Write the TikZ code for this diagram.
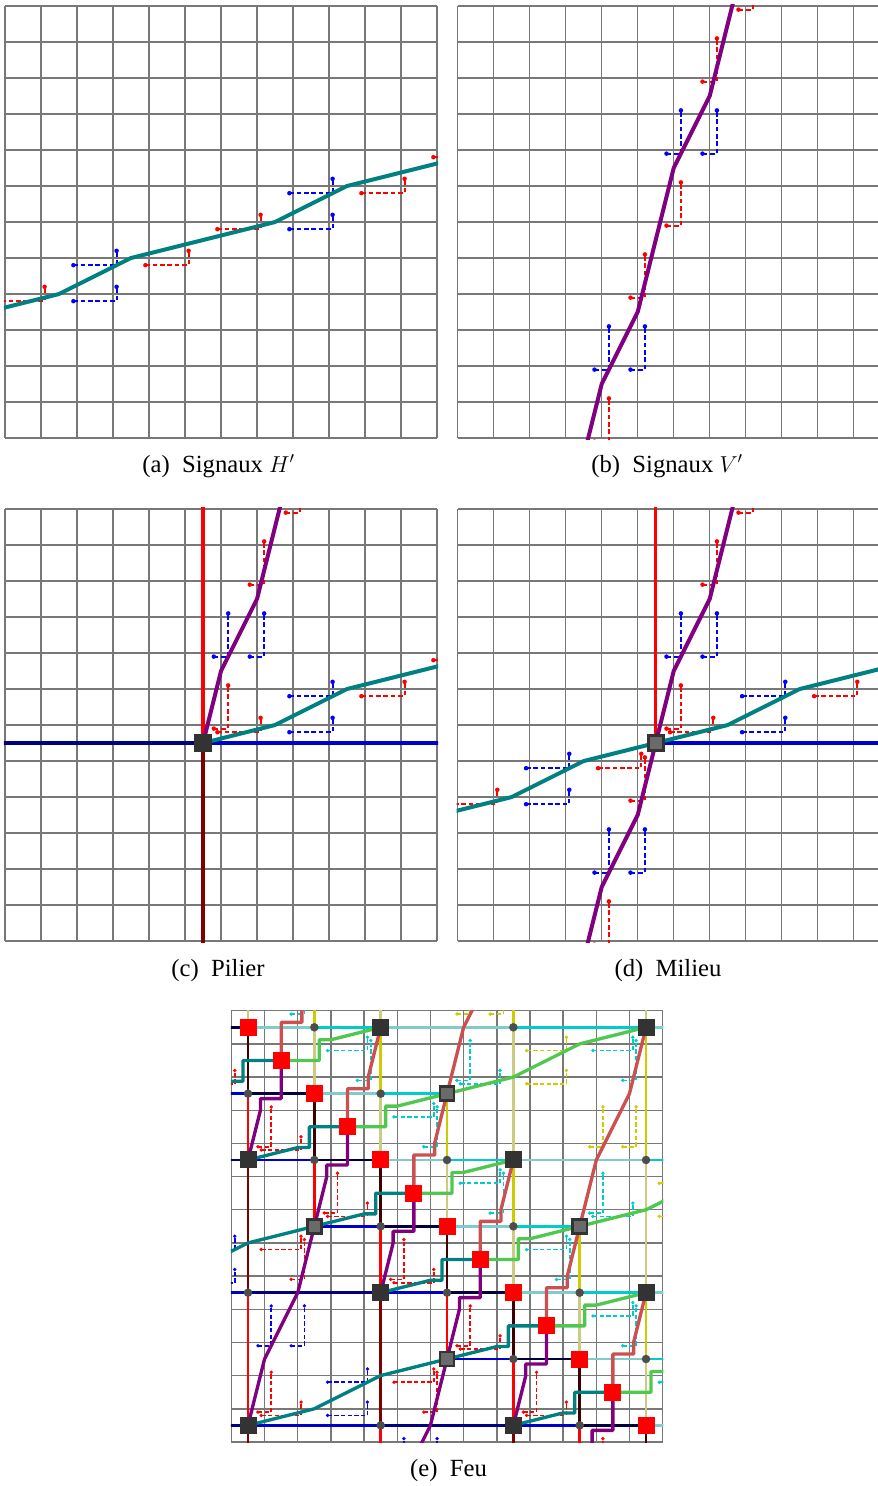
\documentclass[tikz,border=0pt]{standalone}
\usepackage{tikz}
\usepackage{fontspec}
\setmainfont{Liberation Serif}
\definecolor{gridc}{HTML}{787878}
\definecolor{tealc}{HTML}{008080}
\definecolor{purpc}{HTML}{800080}
\definecolor{navyc}{HTML}{000080}
\definecolor{bluec}{HTML}{0000CC}
\definecolor{dnavy}{HTML}{000040}
\definecolor{maroonc}{HTML}{800000}
\definecolor{dmaroon}{HTML}{400000}
\definecolor{redc}{HTML}{FF0000}
\definecolor{cyanc}{HTML}{00CCCC}
\definecolor{pcyan}{HTML}{80CCCC}
\definecolor{yelc}{HTML}{CCCC00}
\definecolor{pyel}{HTML}{CCCC80}
\definecolor{greenc}{HTML}{50C850}
\definecolor{salmc}{HTML}{CD5050}
\definecolor{pilc}{HTML}{333333}
\definecolor{milc}{HTML}{6A6A6A}
\definecolor{circc}{HTML}{4D4D4D}
\definecolor{sred}{HTML}{FF0000}
\definecolor{sblue}{HTML}{0000FF}
\definecolor{scyan}{HTML}{00CCCC}
\definecolor{syel}{HTML}{CCCC00}
\tikzset{
  gridline/.style={draw=gridc,line width=1.1pt},
  sigline/.style={line width=1.4pt,dash pattern=on 3.5pt off 2pt},
  tealline/.style={draw=tealc,line width=3pt,line join=round},
  purpline/.style={draw=purpc,line width=3pt,line join=round},
  axisline/.style={line width=2.5pt},
  eline/.style={line width=2pt},
  ediag/.style={line width=2.5pt,line join=round},
  pillarbox/.style={rectangle,fill=pilc,minimum size=13.5pt,inner sep=0pt},
  milieubox/.style={rectangle,fill=milc,draw=pilc,line width=2.2pt,minimum size=11.3pt,inner sep=0pt},
  epillar/.style={rectangle,fill=pilc,minimum size=12.75pt,inner sep=0pt},
  emilieu/.style={rectangle,fill=milc,draw=pilc,line width=2pt,minimum size=10.7pt,inner sep=0pt},
  efire/.style={rectangle,fill=redc,minimum size=12.75pt,inner sep=0pt},
  capt/.style={anchor=base,inner sep=0pt,font=\fontsize{18.5}{22}\selectfont}
}
\def\dotr{1.7pt}
\newcommand\sg[5]{%
  \draw[sigline,#1] (#2,#3) -| (#4,#5);
  \fill[#1] (#2,#3) circle[radius=\dotr];
  \fill[#1] (#4,#5) circle[radius=\dotr];}
\newcommand\vseg[4]{\draw[eline,#1] (#2,#3)--(#2,#4);}
\newcommand\hseg[4]{\draw[eline,#1] (#3,#2)--(#4,#2);}
% panels a-d signal lists
\def\HR{-0.1/3.8/1.1/4.2, 3.9/4.8/5.1/5.2, 5.9/5.8/7.1/6.2, 9.9/6.8/11.1/7.2, 11.9/7.8/13.1/8.2}
\def\HB{1.9/3.8/3.1/4.2, 1.9/4.8/3.1/5.2, 7.9/5.8/9.1/6.2, 7.9/6.8/9.1/7.2}
\def\HRc{5.9/5.8/7.1/6.2, 9.9/6.8/11.1/7.2, 11.9/7.8/13.1/8.2}
\def\HBc{7.9/5.8/9.1/6.2, 7.9/6.8/9.1/7.2}
% panel e signal lists
\def\ERH{-1.6/1.7/-0.4/1.3, 0.4/3.7/1.6/3.3, 0.4/6.7/1.6/6.3, 2.4/5.7/3.6/5.3, 4.4/7.7/5.6/7.3, 0.4/11.7/1.6/11.3, 4.4/10.7/5.6/10.3, 6.4/9.7/7.6/9.3, 8.4/11.7/9.6/11.3}
\def\EBH{-1.6/7.7/-0.4/7.3, -1.6/6.7/-0.4/6.3, 2.4/11.7/3.6/11.3, 2.4/10.7/3.6/10.3}
\def\ECH{2.4/0.7/3.6/0.3, 4.4/2.7/5.6/2.3, 6.4/1.7/7.6/1.3, 10.4/0.7/11.6/0.3, 6.4/4.7/7.6/4.3, 8.4/6.7/9.6/6.3, 10.4/5.7/11.6/5.3, 10.4/8.7/11.6/8.3, 12.4/10.7/13.6/10.3}
\def\EYH{8.4/1.7/9.6/1.3, 8.4/0.7/9.6/0.3, 12.4/5.7/13.6/5.3, 12.4/4.7/13.6/4.3}
\def\ERV{0.3/3.6/0.7/2.4, 0.3/11.6/0.7/10.4, 1.3/7.6/1.7/6.4, 2.3/5.6/2.7/4.4, 4.3/7.6/4.7/6.4, 5.3/11.6/5.7/10.4, 6.3/9.6/6.7/8.4, 8.3/11.6/8.7/10.4, 10.3/13.6/10.7/12.4}
\def\EBV{0.3/9.6/0.7/8.4, 1.3/9.6/1.7/8.4, 4.3/13.6/4.7/12.4, 5.3/13.6/5.7/12.4}
\def\ECV{1.3/-0.4/1.7/-1.6, 3.3/1.6/3.7/0.4, 5.3/3.6/5.7/2.4, 6.3/1.6/6.7/0.4, 7.3/5.6/7.7/4.4, 9.3/7.6/9.7/6.4, 10.3/5.6/10.7/4.4, 11.3/1.6/11.7/0.4, 11.3/9.6/11.7/8.4}
\def\EYV{6.3/-0.4/6.7/-1.6, 7.3/-0.4/7.7/-1.6, 10.3/3.6/10.7/2.4, 11.3/3.6/11.7/2.4}
\begin{document}
\begin{tikzpicture}
\useasboundingbox (0,0) rectangle (658.5pt,-1114.5pt);
\fill[white] (0,0) rectangle (658.5pt,-1114.5pt);

% ---------- (a) ----------
\begin{scope}[shift={(3.75pt,-328.5pt)},x=27pt,y=27pt]
 \begin{scope}
 \clip (-0.03,-0.03) rectangle (12.03,12.03);
 \foreach \i in {0,...,12} {\draw[gridline] (\i,0)--(\i,12); \draw[gridline] (0,\i)--(12,\i);}
 \foreach \pa/\pb/\pc/\pd in \HR {\sg{sred}{\pa}{\pb}{\pc}{\pd}}
 \foreach \pa/\pb/\pc/\pd in \HB {\sg{sblue}{\pa}{\pb}{\pc}{\pd}}
 \draw[tealline] (-0.5,3.5)--(1.5,4)--(3.5,5)--(7.5,6)--(9.5,7)--(13.5,8);
 \end{scope}
\end{scope}

% ---------- (b) ----------
\begin{scope}[shift={(343.275pt,-328.5pt)},x=27pt,y=27pt]
 \begin{scope}
 \clip (-0.03,-0.03) rectangle (12.03,12.03);
 \foreach \i in {0,...,12} {\draw[gridline] (\i,0)--(\i,12); \draw[gridline] (0,\i)--(12,\i);}
 \foreach \pa/\pb/\pc/\pd in \HR {\sg{sred}{\pb}{\pa}{\pd}{\pc}}
 \foreach \pa/\pb/\pc/\pd in \HB {\sg{sblue}{\pb}{\pa}{\pd}{\pc}}
 \draw[purpline] (3.5,-0.5)--(4,1.5)--(5,3.5)--(6,7.5)--(7,9.5)--(8,13.5);
 \end{scope}
\end{scope}

% ---------- (c) ----------
\begin{scope}[shift={(3.75pt,-705.75pt)},x=27pt,y=27pt]
 \begin{scope}
 \clip (-0.03,-0.03) rectangle (12.03,12.03);
 \foreach \i in {0,...,12} {\draw[gridline] (\i,0)--(\i,12); \draw[gridline] (0,\i)--(12,\i);}
 \foreach \pa/\pb/\pc/\pd in \HRc {\sg{sred}{\pa}{\pb}{\pc}{\pd}}
 \foreach \pa/\pb/\pc/\pd in \HBc {\sg{sblue}{\pa}{\pb}{\pc}{\pd}}
 \foreach \pa/\pb/\pc/\pd in \HRc {\sg{sred}{\pb}{\pa}{\pd}{\pc}}
 \foreach \pa/\pb/\pc/\pd in \HBc {\sg{sblue}{\pb}{\pa}{\pd}{\pc}}
 \coordinate (cP) at (5.5,5.5);
 \draw[axisline,redc] (cP)--(5.5,12.5);
 \draw[axisline,maroonc] (cP)--(5.5,-0.5);
 \draw[axisline,navyc] (cP)--(-0.5,5.5);
 \draw[axisline,bluec] (cP)--(12.5,5.5);
 \draw[tealline] (cP)--(7.5,6)--(9.5,7)--(13.5,8);
 \draw[purpline] (cP)--(6,7.5)--(7,9.5)--(8,13.5);
 \node[pillarbox] (pc) at (cP) {};
 \end{scope}
\end{scope}

% ---------- (d) ----------
\begin{scope}[shift={(343.275pt,-705.75pt)},x=27pt,y=27pt]
 \begin{scope}
 \clip (-0.03,-0.03) rectangle (12.03,12.03);
 \foreach \i in {0,...,12} {\draw[gridline] (\i,0)--(\i,12); \draw[gridline] (0,\i)--(12,\i);}
 \foreach \pa/\pb/\pc/\pd in \HR {\sg{sred}{\pa}{\pb}{\pc}{\pd}}
 \foreach \pa/\pb/\pc/\pd in \HB {\sg{sblue}{\pa}{\pb}{\pc}{\pd}}
 \foreach \pa/\pb/\pc/\pd in \HR {\sg{sred}{\pb}{\pa}{\pd}{\pc}}
 \foreach \pa/\pb/\pc/\pd in \HB {\sg{sblue}{\pb}{\pa}{\pd}{\pc}}
 \coordinate (dM) at (5.5,5.5);
 \draw[axisline,redc] (dM)--(5.5,12.5);
 \draw[axisline,bluec] (dM)--(12.5,5.5);
 \draw[tealline] (-0.5,3.5)--(1.5,4)--(3.5,5)--(7.5,6)--(9.5,7)--(13.5,8);
 \draw[purpline] (3.5,-0.5)--(4,1.5)--(5,3.5)--(6,7.5)--(7,9.5)--(8,13.5);
 \node[milieubox] (md) at (dM) {};
 \end{scope}
\end{scope}

% ---------- (e) ----------
\begin{scope}[shift={(186pt,-770.475pt)},x=24.8775pt,y=-24.8775pt]
 \def\dotr{1.4pt}
 \tikzset{sigline/.style={line width=1.25pt,dash pattern=on 3.2pt off 1.8pt}}
 \begin{scope}
 \clip (-0.52,-0.52) rectangle (12.52,12.52);
 \foreach \i in {0,...,13} {\draw[gridline] (\i-0.5,-0.5)--(\i-0.5,12.5); \draw[gridline] (-0.5,\i-0.5)--(12.5,\i-0.5);}
 % vertical line segments
 \foreach \u/\va/\vb in {0/-0.6/0, 2/0/2, 4/-0.6/0, 4/2/4, 6/4/6, 8/0/4, 8/6/8, 10/8/10, 12/-0.6/0, 12/4/8, 12/10/12} {\vseg{pyel}{\u}{\va}{\vb}}
 \foreach \u/\va/\vb in {2/-0.6/0, 4/0/2, 6/2/4, 8/-0.6/0, 8/4/6, 10/6/8, 12/0/4, 12/8/10} {\vseg{yelc}{\u}{\va}{\vb}}
 \foreach \u/\va/\vb in {0/0/2, 2/2/4, 4/4/6, 6/6/8, 8/8/10, 10/10/12, 12/12/12.6} {\vseg{dmaroon}{\u}{\va}{\vb}}
 \foreach \u/\va/\vb in {0/2/4, 0/8/12, 2/4/6, 4/6/8, 4/12/12.6, 6/8/10, 8/10/12, 10/12/12.6} {\vseg{redc}{\u}{\va}{\vb}}
 \foreach \u/\va/\vb in {0/4/8, 0/12/12.6, 4/8/12, 8/12/12.6} {\vseg{maroonc}{\u}{\va}{\vb}}
 % horizontal line segments
 \foreach \v/\ua/\ub in {0/0/2, 0/4/8, 0/12/12.6, 2/2/4, 4/4/6, 4/8/12, 6/6/8, 8/8/10, 8/12/12.6, 10/10/12, 12/12/12.6} {\hseg{pcyan}{\v}{\ua}{\ub}}
 \foreach \v/\ua/\ub in {0/2/4, 0/8/12, 2/4/6, 4/6/8, 4/12/12.6, 6/8/10, 8/10/12, 10/12/12.6} {\hseg{cyanc}{\v}{\ua}{\ub}}
 \foreach \v/\ua/\ub in {0/-0.6/0, 2/0/2, 4/2/4, 6/4/6, 8/6/8, 10/8/10, 12/10/12} {\hseg{dnavy}{\v}{\ua}{\ub}}
 \foreach \v/\ua/\ub in {2/-0.6/0, 4/0/2, 6/2/4, 8/-0.6/0, 8/4/6, 10/6/8, 12/0/4, 12/8/10} {\hseg{bluec}{\v}{\ua}{\ub}}
 \foreach \v/\ua/\ub in {4/-0.6/0, 8/0/4, 12/-0.6/0, 12/4/8} {\hseg{navyc}{\v}{\ua}{\ub}}
 % signals
 \foreach \pa/\pb/\pc/\pd in \ERH {\sg{sred}{\pa}{\pb}{\pc}{\pd}}
 \foreach \pa/\pb/\pc/\pd in \EBH {\sg{sblue}{\pa}{\pb}{\pc}{\pd}}
 \foreach \pa/\pb/\pc/\pd in \ECH {\sg{scyan}{\pa}{\pb}{\pc}{\pd}}
 \foreach \pa/\pb/\pc/\pd in \EYH {\sg{syel}{\pa}{\pb}{\pc}{\pd}}
 \foreach \pa/\pb/\pc/\pd in \ERV {\sg{sred}{\pa}{\pb}{\pc}{\pd}}
 \foreach \pa/\pb/\pc/\pd in \EBV {\sg{sblue}{\pa}{\pb}{\pc}{\pd}}
 \foreach \pa/\pb/\pc/\pd in \ECV {\sg{scyan}{\pa}{\pb}{\pc}{\pd}}
 \foreach \pa/\pb/\pc/\pd in \EYV {\sg{syel}{\pa}{\pb}{\pc}{\pd}}
 % teal / green lines
 \draw[ediag,tealc] (-6,3.5)--(-4,2.5)--(-2,2)--(-0.5,1.625)--(-0.15,1.625)--(-0.15,1)--(1,1);
 \draw[ediag,greenc] (1,1)--(2.15,1)--(2.15,0.375)--(2.5,0.375)--(4,0);
 \draw[ediag,tealc] (0,4)--(1.5,3.625)--(1.85,3.625)--(1.85,3)--(3,3);
 \draw[ediag,greenc] (3,3)--(4.15,3)--(4.15,2.375)--(4.5,2.375)--(6,2)--(8,1.5)--(10,0.5)--(12,0);
 \draw[ediag,tealc] (-4,8)--(-2,7.5)--(0,6.5)--(2,6)--(3.5,5.625)--(3.85,5.625)--(3.85,5)--(5,5);
 \draw[ediag,greenc] (5,5)--(6.15,5)--(6.15,4.375)--(6.5,4.375)--(8,4);
 \draw[ediag,tealc] (4,8)--(5.5,7.625)--(5.85,7.625)--(5.85,7)--(7,7);
 \draw[ediag,greenc] (7,7)--(8.15,7)--(8.15,6.375)--(8.5,6.375)--(10,6)--(12,5.5)--(14,4.5);
 \draw[ediag,tealc] (0,12)--(2,11.5)--(4,10.5)--(6,10)--(7.5,9.625)--(7.85,9.625)--(7.85,9)--(9,9);
 \draw[ediag,greenc] (9,9)--(10.15,9)--(10.15,8.375)--(10.5,8.375)--(12,8);
 \draw[ediag,tealc] (8,12)--(9.5,11.625)--(9.85,11.625)--(9.85,11)--(11,11);
 \draw[ediag,greenc] (11,11)--(12.15,11)--(12.15,10.375)--(12.5,10.375)--(14,10);
 % purple / salmon lines
 \draw[ediag,purpc] (0,4)--(0.375,2.5)--(0.375,2.15)--(1,2.15)--(1,1);
 \draw[ediag,salmc] (1,1)--(1,-0.15)--(1.625,-0.15)--(1.625,-0.5)--(2,-2);
 \draw[ediag,purpc] (0,12)--(0.5,10)--(1.5,8)--(2,6)--(2.375,4.5)--(2.375,4.15)--(3,4.15)--(3,3);
 \draw[ediag,salmc] (3,3)--(3,1.85)--(3.625,1.85)--(3.625,1.5)--(4,0);
 \draw[ediag,purpc] (4,8)--(4.375,6.5)--(4.375,6.15)--(5,6.15)--(5,5);
 \draw[ediag,salmc] (5,5)--(5,3.85)--(5.625,3.85)--(5.625,3.5)--(6,2)--(6.5,0)--(7.5,-2);
 \draw[ediag,purpc] (4.5,14)--(5.5,12)--(6,10)--(6.375,8.5)--(6.375,8.15)--(7,8.15)--(7,7);
 \draw[ediag,salmc] (7,7)--(7,5.85)--(7.625,5.85)--(7.625,5.5)--(8,4);
 \draw[ediag,purpc] (8,12)--(8.375,10.5)--(8.375,10.15)--(9,10.15)--(9,9);
 \draw[ediag,salmc] (9,9)--(9,7.85)--(9.625,7.85)--(9.625,7.5)--(10,6)--(10.5,4)--(11.5,2)--(12,0);
 \draw[ediag,purpc] (9.5,16)--(10,14)--(10.375,12.5)--(10.375,12.15)--(11,12.15)--(11,11);
 \draw[ediag,salmc] (11,11)--(11,9.85)--(11.625,9.85)--(11.625,9.5)--(12,8);
 % crossings
 \foreach \u/\v in {2/0, 8/0, 0/2, 4/2, 2/4, 6/4, 12/4, 4/6, 8/6, 0/8, 6/8, 10/8, 8/10, 12/10, 4/12, 10/12} {\fill[circc] (\u,\v) circle[radius=3.2pt];}
 % pillars and milieux
 \foreach \u/\v in {4/0, 12/0, 0/4, 8/4, 4/8, 12/8, 0/12, 8/12} {\node[epillar] (ep\u-\v) at (\u,\v) {};}
 \foreach \u/\v in {6/2, 2/6, 10/6, 6/10} {\node[emilieu] (em\u-\v) at (\u,\v) {};}
 \foreach \k in {0,...,12} {\node[efire] (ef\k) at (\k,\k) {};}
 \end{scope}
\end{scope}

% ---------- captions ----------
\node[capt] (capa) at (163.9pt,-354pt) {(a)\enspace Signaux $H'$};
\node[capt] (capb) at (500.3pt,-354pt) {(b)\enspace Signaux $V'$};
\node[capt] (capc) at (163.5pt,-732pt) {(c)\enspace Pilier};
\node[capt] (capd) at (501pt,-732pt) {(d)\enspace Milieu};
\node[capt] (cape) at (336.4pt,-1107pt) {(e)\enspace Feu};
\end{tikzpicture}
\end{document}
